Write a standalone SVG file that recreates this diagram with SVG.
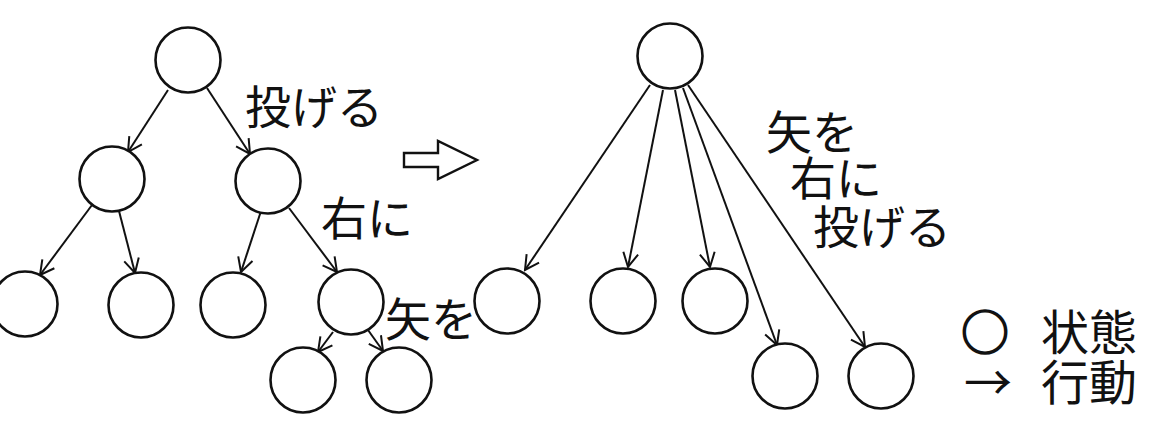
<svg xmlns="http://www.w3.org/2000/svg" width="1149" height="447" viewBox="0 0 1149 447">
  <style>
    .node { fill: #fff; stroke: #111; stroke-width: 2.6; }
    .edge { stroke: #111; stroke-width: 2; fill: none; marker-end: url(#arr); }
    .lbl { font-family: "Noto Sans CJK JP", "Noto Sans", sans-serif; font-size: 46px; fill: #111; }
    .leg { font-family: "Noto Sans CJK JP", "Noto Sans", sans-serif; font-size: 48px; fill: #111; }
  </style>
  <defs>
    <marker id="arr" markerUnits="userSpaceOnUse" viewBox="-16 -10 18 20" refX="0" refY="0" markerWidth="18" markerHeight="20" orient="auto">
      <path d="M-14,-7.5 L0,0 L-14,7.5" fill="none" stroke="#111" stroke-width="2"/>
    </marker>
  </defs>
  <rect width="1149" height="447" fill="#fff"/>

  <g id="connectors">
    <line class="edge" x1="168" y1="90" x2="128" y2="152"/>
    <line class="edge" x1="207" y1="88" x2="250" y2="154"/>
    <line class="edge" x1="92" y1="205" x2="40" y2="275"/>
    <line class="edge" x1="119" y1="211" x2="135" y2="273"/>
    <line class="edge" x1="261" y1="211" x2="241" y2="272"/>
    <line class="edge" x1="289" y1="208" x2="337" y2="272"/>
    <line class="edge" x1="333" y1="332" x2="318" y2="352"/>
    <line class="edge" x1="368" y1="330" x2="383" y2="351"/>
    <line class="edge" x1="650" y1="85" x2="525" y2="270"/>
    <line class="edge" x1="663" y1="90" x2="628" y2="267"/>
    <line class="edge" x1="675" y1="90" x2="710" y2="267"/>
    <line class="edge" x1="683" y1="88" x2="777" y2="345"/>
    <line class="edge" x1="688" y1="85" x2="865" y2="347"/>
  </g>

  <g id="left-root"><circle class="node" cx="188" cy="60" r="32.5"/></g>
  <g id="left-a"><circle class="node" cx="112" cy="179" r="32.5"/></g>
  <g id="left-b"><circle class="node" cx="268" cy="181" r="32.5"/></g>
  <g id="left-a1"><circle class="node" cx="25" cy="304" r="32.5"/></g>
  <g id="left-a2"><circle class="node" cx="141" cy="305" r="32.5"/></g>
  <g id="left-b1"><circle class="node" cx="233" cy="305" r="32.5"/></g>
  <g id="left-b2"><circle class="node" cx="351" cy="302" r="32.5"/></g>
  <g id="left-b2a"><circle class="node" cx="303" cy="380" r="32.5"/></g>
  <g id="left-b2b"><circle class="node" cx="399" cy="380" r="32.5"/></g>

  <g id="right-root"><circle class="node" cx="670" cy="56" r="32.5"/></g>
  <g id="right-1"><circle class="node" cx="507" cy="301" r="32.5"/></g>
  <g id="right-2"><circle class="node" cx="623" cy="301" r="32.5"/></g>
  <g id="right-3"><circle class="node" cx="715" cy="301" r="32.5"/></g>
  <g id="right-4"><circle class="node" cx="785" cy="376" r="32.5"/></g>
  <g id="right-5"><circle class="node" cx="881" cy="376" r="32.5"/></g>

  <g id="transform-arrow">
    <polygon points="404,153 438,153 438,141 477,160 438,179 438,167 404,167" fill="#fff" stroke="#111" stroke-width="2.4" stroke-linejoin="miter"/>
  </g>

  <g id="labels">
    <text class="lbl" x="245" y="124">投げる</text>
    <text class="lbl" x="321" y="235">右に</text>
    <text class="lbl" x="385" y="336">矢を</text>
    <text class="lbl" x="766" y="149">矢を</text>
    <text class="lbl" x="790" y="195">右に</text>
    <text class="lbl" x="813" y="244">投げる</text>
  </g>

  <g id="legend">
    <text class="leg" x="985" y="350" text-anchor="middle" stroke="#111" stroke-width="1.6">○</text>
    <text class="leg" x="1041" y="350">状態</text>
    <text class="leg" x="988" y="400" text-anchor="middle">→</text>
    <text class="leg" x="1041" y="400">行動</text>
  </g>
</svg>
